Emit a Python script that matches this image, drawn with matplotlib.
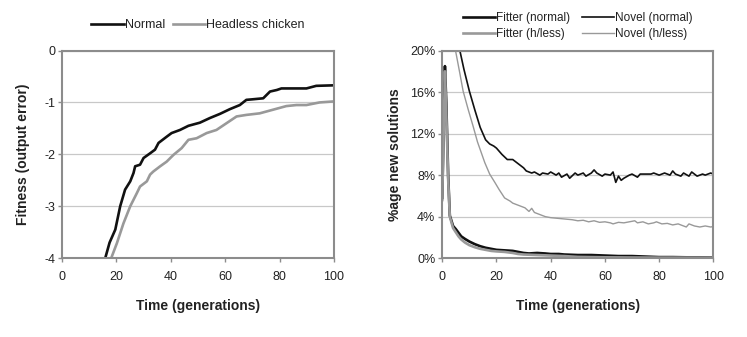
import matplotlib.pyplot as plt
from matplotlib.ticker import FuncFormatter

plt.rcParams['font.family'] = ['Liberation Sans', 'DejaVu Sans']
plt.rcParams['axes.unicode_minus'] = False

# Fitness over time (left panel)
normal_x = [14, 15.9, 17.5, 19.6, 21.4, 23.2, 25.1, 26.3, 26.9, 28.7, 30, 32.4, 34.2, 35.5,
            38.5, 40.3, 43.4, 46.5, 50.7, 54.4, 58.1, 61.7, 65.4, 67.8, 70, 74, 76.5,
            79, 80.7, 85, 89.9, 93.5, 100]
normal_y = [-4.4, -4.0, -3.7, -3.45, -3.0, -2.68, -2.52, -2.36, -2.23, -2.2, -2.07, -1.98,
            -1.91, -1.78, -1.66, -1.59, -1.53, -1.45, -1.39, -1.30, -1.22, -1.13, -1.05,
            -0.95, -0.94, -0.92, -0.79, -0.76, -0.73, -0.73, -0.73, -0.68, -0.67]
headless_x = [16.5, 18.1, 20.2, 22.6, 25.1, 27.5, 28.7, 31.2, 32.4, 33.6, 36.1, 38.5, 41,
              44, 46.5, 49.5, 53.2, 56.8, 60.5, 64.2, 67.8, 72.7, 77.6, 82.5, 86.2,
              89.9, 94.7, 100]
headless_y = [-4.4, -4.0, -3.71, -3.33, -3.0, -2.75, -2.62, -2.52, -2.39, -2.33, -2.23,
              -2.14, -2.01, -1.88, -1.72, -1.69, -1.59, -1.53, -1.40, -1.27, -1.24, -1.21,
              -1.14, -1.07, -1.05, -1.05, -1.0, -0.98]

# Percentage of new solutions (right panel)
fit_n_x = [0, 1, 1.5, 2.2, 2.8, 4, 5, 6, 7, 8.4, 10, 12, 14, 16, 18, 20, 23, 26, 28, 30,
           32, 35, 38, 40, 43, 45, 50, 55, 60, 65, 70, 75, 80, 85, 90, 95, 100]
fit_n_y = [5.8, 18.5, 15, 7.9, 4.1, 3.1, 2.8, 2.45, 2.1, 1.85, 1.6, 1.35, 1.15, 1.0, 0.9,
           0.8, 0.75, 0.7, 0.6, 0.5, 0.45, 0.5, 0.45, 0.4, 0.4, 0.35, 0.3, 0.3, 0.25, 0.2,
           0.2, 0.15, 0.1, 0.1, 0.08, 0.08, 0.07]
fit_h_x = [0, 1, 1.5, 2.2, 2.8, 4, 5, 6, 7, 8.4, 10, 12, 14, 16, 18, 20, 23, 26, 28, 30,
           35, 40, 45, 50, 55, 60, 70, 80, 90, 100]
fit_h_y = [5.6, 18.0, 14, 7.5, 4.0, 2.9, 2.5, 2.1, 1.8, 1.5, 1.25, 1.05, 0.9, 0.8, 0.7,
           0.65, 0.6, 0.5, 0.4, 0.35, 0.3, 0.25, 0.2, 0.12, 0.1, 0.08, 0.06, 0.05, 0.05, 0.05]
nov_n_x = [6.5, 8, 10, 12, 14, 16, 17.5, 19, 20, 22, 24, 26, 28, 30, 31, 33, 34, 36, 37, 39,
           40, 42, 43, 44, 46, 47, 49, 50, 52, 53, 55, 56, 57, 59, 60, 62, 63, 64, 65, 66,
           67, 69, 70, 72, 73, 75, 77, 78, 80, 82, 84, 85, 86, 88, 89, 91, 92, 94, 96, 97,
           99, 100]
nov_n_y = [20.0, 18.2, 16.1, 14.3, 12.6, 11.4, 11.0, 10.8, 10.6, 10.0, 9.5, 9.5, 9.1, 8.7,
           8.4, 8.2, 8.3, 8.0, 8.2, 8.1, 8.3, 8.0, 8.2, 7.8, 8.1, 7.7, 8.2, 8.0, 8.2, 7.9,
           8.2, 8.5, 8.2, 7.9, 8.1, 8.0, 8.3, 7.3, 7.9, 7.5, 7.7, 8.0, 8.1, 7.8, 8.1, 8.1,
           8.1, 8.2, 8.0, 8.2, 8.0, 8.4, 8.1, 7.9, 8.2, 7.9, 8.3, 7.9, 8.1, 8.0, 8.2, 8.1]
nov_h_x = [4.9, 6.5, 7.7, 9.6, 11.4, 13, 15.7, 17.5, 19.4, 21, 23, 25, 26, 28, 30.5, 32, 33,
           34, 36, 38, 40, 42, 44, 46, 48, 50, 52, 54, 56, 58, 60, 62, 63, 65, 67, 69, 71,
           72, 74, 76, 78, 79, 81, 83, 85, 87, 89, 90, 91, 93, 95, 97, 99, 100]
nov_h_y = [20.0, 17.8, 16.1, 14.3, 12.7, 11.2, 9.2, 8.1, 7.3, 6.6, 5.8, 5.5, 5.3, 5.1, 4.85,
           4.5, 4.8, 4.4, 4.2, 4.0, 3.9, 3.85, 3.8, 3.75, 3.7, 3.6, 3.65, 3.5, 3.6, 3.45,
           3.5, 3.4, 3.3, 3.45, 3.4, 3.5, 3.6, 3.4, 3.5, 3.3, 3.4, 3.5, 3.3, 3.35, 3.2, 3.3,
           3.1, 3.0, 3.3, 3.1, 3.0, 3.1, 3.0, 3.05]

x_ticks = [0, 20, 40, 60, 80, 100]
fit_ticks = [-4, -3, -2, -1, 0]
pct_ticks = [0, 4, 8, 12, 16, 20]

BLACK = '#111111'
GREY = '#999999'
FRAME = '#8c8c8c'
TEXT = '#222222'

fig = plt.figure(figsize=(7.47, 3.37), dpi=100)
ax1 = fig.add_axes([0.083, 0.234, 0.364, 0.616])
ax2 = fig.add_axes([0.592, 0.234, 0.363, 0.616])


def style(ax):
    for s in ax.spines.values():
        s.set_color(FRAME)
        s.set_linewidth(1.5)
    ax.tick_params(direction='out', length=3, width=1, color=FRAME,
                   labelsize=9, labelcolor=TEXT)
    ax.tick_params(axis='x', pad=6)
    ax.tick_params(axis='y', pad=2)
    ax.yaxis.grid(True, color='#c8c8c8', linewidth=0.9)
    ax.set_axisbelow(True)
    ax.set_xlim(0, 100)
    ax.set_xticks(x_ticks)
    ax.set_xlabel('Time (generations)', fontsize=10, fontweight='bold',
                  color=TEXT, labelpad=12)


# left: fitness
ax1.plot(normal_x, normal_y, color=BLACK, lw=1.9, label='Normal')
ax1.plot(headless_x, headless_y, color=GREY, lw=1.9, label='Headless chicken')
style(ax1)
ax1.set_ylim(-4, 0)
ax1.set_yticks(fit_ticks)
ax1.set_ylabel('Fitness (output error)', fontsize=10, fontweight='bold',
               color=TEXT, labelpad=10)
ax1.legend(loc='lower center', bbox_to_anchor=(0.5, 1.04), ncol=2, frameon=False,
           fontsize=9, handlelength=2.6, handletextpad=0.1, columnspacing=0.6,
           labelcolor=TEXT)

# right: new solutions
fn, = ax2.plot(fit_n_x, fit_n_y, color=BLACK, lw=1.9, label='Fitter (normal)')
nn, = ax2.plot(nov_n_x, nov_n_y, color=BLACK, lw=1.2, label='Novel (normal)')
fh, = ax2.plot(fit_h_x, fit_h_y, color=GREY, lw=1.9, label='Fitter (h/less)')
nh, = ax2.plot(nov_h_x, nov_h_y, color=GREY, lw=1.0, label='Novel (h/less)')
style(ax2)
ax2.set_ylim(0, 20)
ax2.set_yticks(pct_ticks)
ax2.yaxis.set_major_formatter(FuncFormatter(lambda v, p: '%d%%' % v))
ax2.set_ylabel('%age new solutions', fontsize=10, fontweight='bold',
               color=TEXT, labelpad=6)
ax2.legend(handles=[fn, fh, nn, nh], loc='lower center', bbox_to_anchor=(0.5, 1.0),
           ncol=2, frameon=False, fontsize=8.5, handlelength=2.7, handletextpad=0.1,
           columnspacing=1.0, labelspacing=0.3, labelcolor=TEXT)

fig.savefig('out.png', dpi=100)
